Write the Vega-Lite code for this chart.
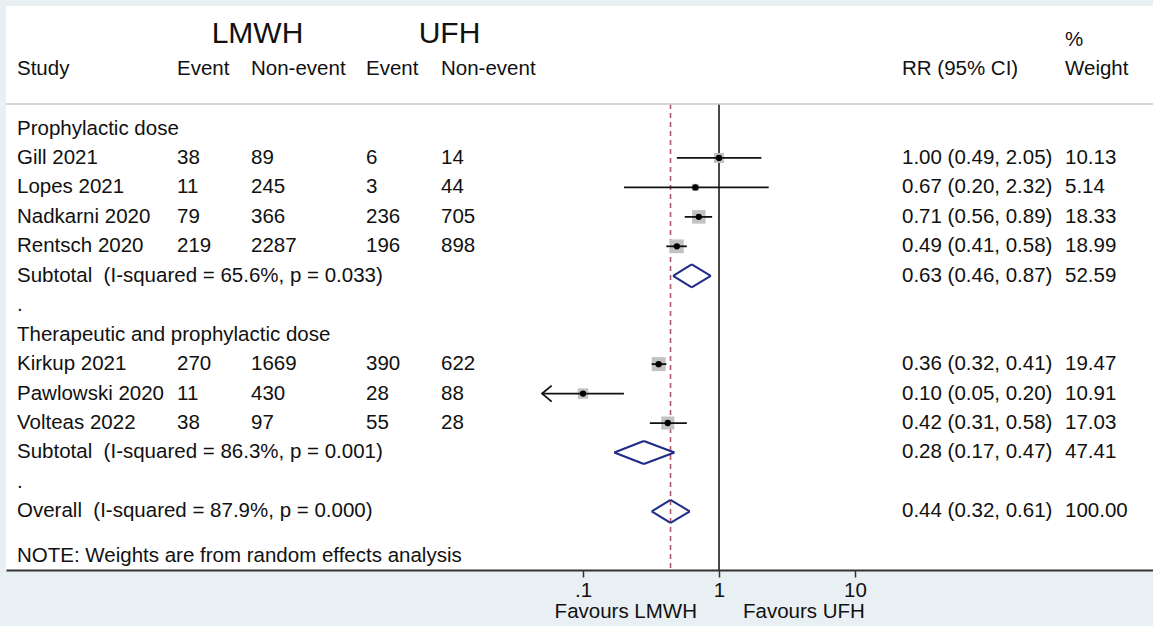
{
  "$schema": "https://vega.github.io/schema/vega-lite/v6.json",
  "width": 1147,
  "height": 564,
  "autosize": {"type": "none"},
  "padding": {"left": 6, "top": 6, "right": 0, "bottom": 56},
  "background": "#e9f0f3",
  "config": {
    "view": {"fill": "white", "stroke": null},
    "text": {"font": "Liberation Sans"},
    "axisX": {"grid": false, "domainColor": "#333333", "domainWidth": 2, "tickColor": "#333333", "tickWidth": 1.5, "tickSize": 7, "labelFont": "Liberation Sans", "labelFontSize": 20.5, "labelColor": "#111111", "labelPadding": 3, "labelFlush": false, "labelOverlap": false}
  },
  "datasets": {
    "table": [
      {"row": -3.21, "kind": "arm", "arm": "LMWH"},
      {"row": -3.21, "kind": "arm", "arm": "UFH"},
      {"row": -3.0, "kind": "head2", "w": "%"},
      {"row": -2.02, "kind": "head", "label": "Study", "le": "Event", "ln": "Non-event", "ue": "Event", "un": "Non-event", "ci": "RR (95% CI)", "w": "Weight"},
      {"row": 0, "kind": "group", "label": "Prophylactic dose"},
      {"row": 1, "kind": "study", "label": "Gill 2021", "le": "38", "ln": "89", "ue": "6", "un": "14", "rr": 1.00, "lo": 0.49, "hi": 2.05, "ci": "1.00 (0.49, 2.05)", "w": "10.13", "wt": 10.13},
      {"row": 2, "kind": "study", "label": "Lopes 2021", "le": "11", "ln": "245", "ue": "3", "un": "44", "rr": 0.67, "lo": 0.20, "hi": 2.32, "ci": "0.67 (0.20, 2.32)", "w": "5.14", "wt": 5.14},
      {"row": 3, "kind": "study", "label": "Nadkarni 2020", "le": "79", "ln": "366", "ue": "236", "un": "705", "rr": 0.71, "lo": 0.56, "hi": 0.89, "ci": "0.71 (0.56, 0.89)", "w": "18.33", "wt": 18.33},
      {"row": 4, "kind": "study", "label": "Rentsch 2020", "le": "219", "ln": "2287", "ue": "196", "un": "898", "rr": 0.49, "lo": 0.41, "hi": 0.58, "ci": "0.49 (0.41, 0.58)", "w": "18.99", "wt": 18.99},
      {"row": 5, "kind": "pooled", "label": "Subtotal\u00a0 (I-squared = 65.6%, p = 0.033)", "rr": 0.63, "lo": 0.46, "hi": 0.87, "ci": "0.63 (0.46, 0.87)", "w": "52.59", "wt": 52.59},
      {"row": 6, "kind": "blank", "label": "."},
      {"row": 7, "kind": "group", "label": "Therapeutic and prophylactic dose"},
      {"row": 8, "kind": "study", "label": "Kirkup 2021", "le": "270", "ln": "1669", "ue": "390", "un": "622", "rr": 0.36, "lo": 0.32, "hi": 0.41, "ci": "0.36 (0.32, 0.41)", "w": "19.47", "wt": 19.47},
      {"row": 9, "kind": "study", "label": "Pawlowski 2020", "le": "11", "ln": "430", "ue": "28", "un": "88", "rr": 0.10, "lo": 0.05, "hi": 0.20, "ci": "0.10 (0.05, 0.20)", "w": "10.91", "wt": 10.91},
      {"row": 10, "kind": "study", "label": "Volteas 2022", "le": "38", "ln": "97", "ue": "55", "un": "28", "rr": 0.42, "lo": 0.31, "hi": 0.58, "ci": "0.42 (0.31, 0.58)", "w": "17.03", "wt": 17.03},
      {"row": 11, "kind": "pooled", "label": "Subtotal\u00a0 (I-squared = 86.3%, p = 0.001)", "rr": 0.28, "lo": 0.17, "hi": 0.47, "ci": "0.28 (0.17, 0.47)", "w": "47.41", "wt": 47.41},
      {"row": 12, "kind": "blank", "label": "."},
      {"row": 13, "kind": "overall", "label": "Overall\u00a0 (I-squared = 87.9%, p = 0.000)", "rr": 0.44, "lo": 0.32, "hi": 0.61, "ci": "0.44 (0.32, 0.61)", "w": "100.00", "wt": 100.0},
      {"row": 14.52, "kind": "note", "label": "NOTE: Weights are from random effects analysis"}
    ],
    "refs": [{"rr": 1}],
    "favours": [{"text": "Favours LMWH", "side": "left"}, {"text": "Favours UFH", "side": "right"}]
  },
  "data": {"name": "table"},
  "layer": [
    {
      "layer": [
        {
          "data": {"name": "refs"},
          "mark": {"type": "rule", "color": "#333333", "strokeWidth": 1.8},
          "encoding": {
            "x": {"field": "rr", "type": "quantitative", "title": null,
                  "scale": {"type": "log", "domain": [5.72e-6, 1553], "nice": false},
                  "axis": {"values": [0.1, 1, 10], "labelExpr": "datum.value < 0.5 ? '.1' : (datum.value < 5 ? '1' : '10')", "title": null}},
            "y": {"datum": -0.83, "type": "quantitative", "scale": {"domain": [-4.16, 14.99], "reverse": true, "zero": false, "nice": false}, "axis": null},
            "y2": {"datum": 14.99}
          }
        },
        {
          "transform": [{"filter": "datum.kind == 'overall'"}],
          "mark": {"type": "rule", "color": "#b0586a", "strokeWidth": 1.6, "strokeDash": [5, 4]},
          "encoding": {
            "x": {"field": "rr", "type": "quantitative", "title": null, "scale": {"type": "log", "domain": [5.72e-6, 1553], "nice": false},
                  "axis": {"values": [0.1, 1, 10], "labelExpr": "datum.value < 0.5 ? '.1' : (datum.value < 5 ? '1' : '10')", "title": null}},
            "y": {"datum": -0.83, "type": "quantitative", "scale": {"domain": [-4.16, 14.99], "reverse": true, "zero": false, "nice": false}, "axis": null},
            "y2": {"datum": 14.99}
          }
        },
        {
          "transform": [{"filter": "datum.kind == 'head'"}],
          "mark": {"type": "rule", "color": "#c8c8c8", "strokeWidth": 1.5},
          "encoding": {
            "y": {"datum": -0.83, "type": "quantitative", "scale": {"domain": [-4.16, 14.99], "reverse": true, "zero": false, "nice": false}, "axis": null}
          }
        },
        {
          "transform": [{"filter": "datum.kind == 'study'"}],
          "mark": {"type": "point", "shape": "square", "filled": true, "color": "#c2c2c2", "opacity": 1},
          "encoding": {
            "x": {"field": "rr", "type": "quantitative", "title": null, "scale": {"type": "log", "domain": [5.72e-6, 1553], "nice": false},
                  "axis": {"values": [0.1, 1, 10], "labelExpr": "datum.value < 0.5 ? '.1' : (datum.value < 5 ? '1' : '10')", "title": null}},
            "y": {"field": "row", "type": "quantitative", "scale": {"domain": [-4.16, 14.99], "reverse": true, "zero": false, "nice": false}, "axis": null},
            "size": {"field": "wt", "type": "quantitative", "scale": {"type": "linear", "domain": [0, 20], "range": [0, 200], "zero": true}, "legend": null}
          }
        },
        {
          "transform": [{"filter": "datum.kind == 'study'"}],
          "mark": {"type": "rule", "color": "#111111", "strokeWidth": 1.8},
          "encoding": {
            "x": {"field": "lo", "type": "quantitative", "title": null, "scale": {"type": "log", "domain": [5.72e-6, 1553], "nice": false},
                  "axis": {"values": [0.1, 1, 10], "labelExpr": "datum.value < 0.5 ? '.1' : (datum.value < 5 ? '1' : '10')", "title": null}},
            "x2": {"field": "hi"},
            "y": {"field": "row", "type": "quantitative", "scale": {"domain": [-4.16, 14.99], "reverse": true, "zero": false, "nice": false}, "axis": null}
          }
        },
        {
          "transform": [{"filter": "datum.kind == 'study'"}],
          "mark": {"type": "point", "shape": "circle", "filled": true, "color": "#000000", "opacity": 1, "size": 40},
          "encoding": {
            "x": {"field": "rr", "type": "quantitative", "title": null, "scale": {"type": "log", "domain": [5.72e-6, 1553], "nice": false},
                  "axis": {"values": [0.1, 1, 10], "labelExpr": "datum.value < 0.5 ? '.1' : (datum.value < 5 ? '1' : '10')", "title": null}},
            "y": {"field": "row", "type": "quantitative", "scale": {"domain": [-4.16, 14.99], "reverse": true, "zero": false, "nice": false}, "axis": null}
          }
        },
        {
          "transform": [{"filter": "datum.kind == 'study' && datum.lo < 0.06"}],
          "mark": {"type": "point", "shape": "M1.2,-1L0,0L1.2,1", "filled": false, "stroke": "#111111", "strokeWidth": 1.8, "opacity": 1, "size": 256},
          "encoding": {
            "x": {"field": "lo", "type": "quantitative", "title": null, "scale": {"type": "log", "domain": [5.72e-6, 1553], "nice": false},
                  "axis": {"values": [0.1, 1, 10], "labelExpr": "datum.value < 0.5 ? '.1' : (datum.value < 5 ? '1' : '10')", "title": null}},
            "y": {"field": "row", "type": "quantitative", "scale": {"domain": [-4.16, 14.99], "reverse": true, "zero": false, "nice": false}, "axis": null}
          }
        },
        {
          "transform": [{"filter": "datum.kind == 'pooled' || datum.kind == 'overall'"}, {"fold": ["lo", "hi"], "as": ["end", "xe"]}],
          "mark": {"type": "rule", "color": "#1f2b86", "strokeWidth": 2, "y2Offset": -11.5},
          "encoding": {
            "x": {"field": "xe", "type": "quantitative", "title": null, "scale": {"type": "log", "domain": [5.72e-6, 1553], "nice": false},
                  "axis": {"values": [0.1, 1, 10], "labelExpr": "datum.value < 0.5 ? '.1' : (datum.value < 5 ? '1' : '10')", "title": null}},
            "x2": {"field": "rr"},
            "y": {"field": "row", "type": "quantitative", "scale": {"domain": [-4.16, 14.99], "reverse": true, "zero": false, "nice": false}, "axis": null},
            "y2": {"field": "row"}
          }
        },
        {
          "transform": [{"filter": "datum.kind == 'pooled' || datum.kind == 'overall'"}, {"fold": ["lo", "hi"], "as": ["end", "xe"]}],
          "mark": {"type": "rule", "color": "#1f2b86", "strokeWidth": 2, "y2Offset": 11.5},
          "encoding": {
            "x": {"field": "xe", "type": "quantitative", "title": null, "scale": {"type": "log", "domain": [5.72e-6, 1553], "nice": false},
                  "axis": {"values": [0.1, 1, 10], "labelExpr": "datum.value < 0.5 ? '.1' : (datum.value < 5 ? '1' : '10')", "title": null}},
            "x2": {"field": "rr"},
            "y": {"field": "row", "type": "quantitative", "scale": {"domain": [-4.16, 14.99], "reverse": true, "zero": false, "nice": false}, "axis": null},
            "y2": {"field": "row"}
          }
        },
        {
          "data": {"name": "favours"},
          "transform": [{"filter": "datum.side == 'left'"}],
          "mark": {"type": "text", "align": "right", "baseline": "middle", "dx": -22, "fontSize": 20.5, "color": "#111111"},
          "encoding": {
            "x": {"datum": 1, "type": "quantitative", "title": null, "scale": {"type": "log", "domain": [5.72e-6, 1553], "nice": false},
                  "axis": {"values": [0.1, 1, 10], "labelExpr": "datum.value < 0.5 ? '.1' : (datum.value < 5 ? '1' : '10')", "title": null}},
            "y": {"datum": 16.42, "type": "quantitative", "scale": {"domain": [-4.16, 14.99], "reverse": true, "zero": false, "nice": false}, "axis": null},
            "text": {"field": "text"}
          }
        },
        {
          "data": {"name": "favours"},
          "transform": [{"filter": "datum.side == 'right'"}],
          "mark": {"type": "text", "align": "left", "baseline": "middle", "dx": 24, "fontSize": 20.5, "color": "#111111"},
          "encoding": {
            "x": {"datum": 1, "type": "quantitative", "title": null, "scale": {"type": "log", "domain": [5.72e-6, 1553], "nice": false},
                  "axis": {"values": [0.1, 1, 10], "labelExpr": "datum.value < 0.5 ? '.1' : (datum.value < 5 ? '1' : '10')", "title": null}},
            "y": {"datum": 16.42, "type": "quantitative", "scale": {"domain": [-4.16, 14.99], "reverse": true, "zero": false, "nice": false}, "axis": null},
            "text": {"field": "text"}
          }
        }
      ]
    },
    {
      "layer": [
        {
          "transform": [{"filter": "isValid(datum.label)"}],
          "mark": {"type": "text", "align": "left", "baseline": "middle", "fontSize": 20.5, "color": "#111111"},
          "encoding": {
            "x": {"datum": 0, "type": "quantitative", "scale": {"domain": [0, 1, 2, 3, 4, 5, 6], "range": [11, 171, 245, 360, 435, 896, 1059], "zero": false, "nice": false}, "axis": null},
            "y": {"field": "row", "type": "quantitative", "scale": {"domain": [-4.16, 14.99], "reverse": true, "zero": false, "nice": false}, "axis": null},
            "text": {"field": "label"}
          }
        },
        {
          "transform": [{"filter": "isValid(datum.le)"}],
          "mark": {"type": "text", "align": "left", "baseline": "middle", "fontSize": 20.5, "color": "#111111"},
          "encoding": {
            "x": {"datum": 1, "type": "quantitative", "scale": {"domain": [0, 1, 2, 3, 4, 5, 6], "range": [11, 171, 245, 360, 435, 896, 1059], "zero": false, "nice": false}, "axis": null},
            "y": {"field": "row", "type": "quantitative", "scale": {"domain": [-4.16, 14.99], "reverse": true, "zero": false, "nice": false}, "axis": null},
            "text": {"field": "le"}
          }
        },
        {
          "transform": [{"filter": "isValid(datum.ln)"}],
          "mark": {"type": "text", "align": "left", "baseline": "middle", "fontSize": 20.5, "color": "#111111"},
          "encoding": {
            "x": {"datum": 2, "type": "quantitative", "scale": {"domain": [0, 1, 2, 3, 4, 5, 6], "range": [11, 171, 245, 360, 435, 896, 1059], "zero": false, "nice": false}, "axis": null},
            "y": {"field": "row", "type": "quantitative", "scale": {"domain": [-4.16, 14.99], "reverse": true, "zero": false, "nice": false}, "axis": null},
            "text": {"field": "ln"}
          }
        },
        {
          "transform": [{"filter": "isValid(datum.ue)"}],
          "mark": {"type": "text", "align": "left", "baseline": "middle", "fontSize": 20.5, "color": "#111111"},
          "encoding": {
            "x": {"datum": 3, "type": "quantitative", "scale": {"domain": [0, 1, 2, 3, 4, 5, 6], "range": [11, 171, 245, 360, 435, 896, 1059], "zero": false, "nice": false}, "axis": null},
            "y": {"field": "row", "type": "quantitative", "scale": {"domain": [-4.16, 14.99], "reverse": true, "zero": false, "nice": false}, "axis": null},
            "text": {"field": "ue"}
          }
        },
        {
          "transform": [{"filter": "isValid(datum.un)"}],
          "mark": {"type": "text", "align": "left", "baseline": "middle", "fontSize": 20.5, "color": "#111111"},
          "encoding": {
            "x": {"datum": 4, "type": "quantitative", "scale": {"domain": [0, 1, 2, 3, 4, 5, 6], "range": [11, 171, 245, 360, 435, 896, 1059], "zero": false, "nice": false}, "axis": null},
            "y": {"field": "row", "type": "quantitative", "scale": {"domain": [-4.16, 14.99], "reverse": true, "zero": false, "nice": false}, "axis": null},
            "text": {"field": "un"}
          }
        },
        {
          "transform": [{"filter": "isValid(datum.ci)"}],
          "mark": {"type": "text", "align": "left", "baseline": "middle", "fontSize": 20.5, "color": "#111111"},
          "encoding": {
            "x": {"datum": 5, "type": "quantitative", "scale": {"domain": [0, 1, 2, 3, 4, 5, 6], "range": [11, 171, 245, 360, 435, 896, 1059], "zero": false, "nice": false}, "axis": null},
            "y": {"field": "row", "type": "quantitative", "scale": {"domain": [-4.16, 14.99], "reverse": true, "zero": false, "nice": false}, "axis": null},
            "text": {"field": "ci"}
          }
        },
        {
          "transform": [{"filter": "isValid(datum.w)"}],
          "mark": {"type": "text", "align": "left", "baseline": "middle", "fontSize": 20.5, "color": "#111111"},
          "encoding": {
            "x": {"datum": 6, "type": "quantitative", "scale": {"domain": [0, 1, 2, 3, 4, 5, 6], "range": [11, 171, 245, 360, 435, 896, 1059], "zero": false, "nice": false}, "axis": null},
            "y": {"field": "row", "type": "quantitative", "scale": {"domain": [-4.16, 14.99], "reverse": true, "zero": false, "nice": false}, "axis": null},
            "text": {"field": "w"}
          }
        },
        {
          "transform": [{"filter": "datum.arm == 'LMWH'"}],
          "mark": {"type": "text", "align": "center", "baseline": "middle", "fontSize": 30, "dx": 6.5, "color": "#111111"},
          "encoding": {
            "x": {"datum": 2, "type": "quantitative", "scale": {"domain": [0, 1, 2, 3, 4, 5, 6], "range": [11, 171, 245, 360, 435, 896, 1059], "zero": false, "nice": false}, "axis": null},
            "y": {"field": "row", "type": "quantitative", "scale": {"domain": [-4.16, 14.99], "reverse": true, "zero": false, "nice": false}, "axis": null},
            "text": {"field": "arm"}
          }
        },
        {
          "transform": [{"filter": "datum.arm == 'UFH'"}],
          "mark": {"type": "text", "align": "center", "baseline": "middle", "fontSize": 30, "dx": 8.5, "color": "#111111"},
          "encoding": {
            "x": {"datum": 4, "type": "quantitative", "scale": {"domain": [0, 1, 2, 3, 4, 5, 6], "range": [11, 171, 245, 360, 435, 896, 1059], "zero": false, "nice": false}, "axis": null},
            "y": {"field": "row", "type": "quantitative", "scale": {"domain": [-4.16, 14.99], "reverse": true, "zero": false, "nice": false}, "axis": null},
            "text": {"field": "arm"}
          }
        }
      ]
    }
  ],
  "resolve": {"scale": {"x": "independent"}, "axis": {"x": "independent"}}
}
